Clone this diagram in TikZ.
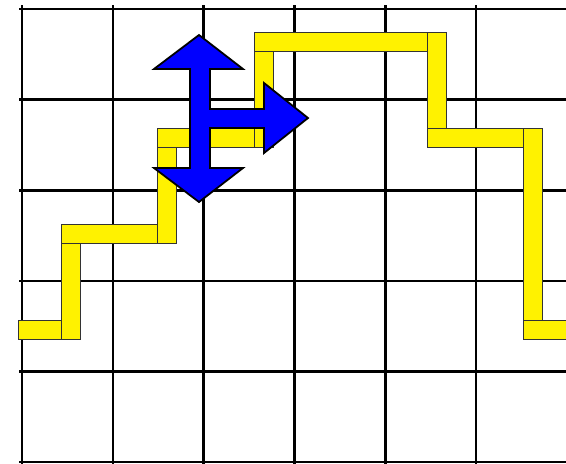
\documentclass[tikz,border=0pt]{standalone}
\begin{document}
\begin{tikzpicture}[x=1pt,y=-1pt,
  gridline/.style={line width=2.6pt, black},
  seg/.style={fill=yellow, draw=black!80, line width=0.9pt},
  arrowshape/.style={fill=blue, draw=black, line width=1.8pt, line join=miter}]
\useasboundingbox (0,0) rectangle (566,464);
\clip (0,0) rectangle (566,464);
\fill[white] (0,0) rectangle (566,464);
% grid
\foreach \x in {22,112.8,203.6,294.4,385.2,476}
  \draw[gridline] (\x,5) -- (\x,470);
\foreach \y in {9,99.6,190.2,280.8,371.4,462}
  \draw[gridline] (19,\y) -- (570,\y);
% yellow path segments
\draw[seg] (18,320) rectangle (80,339);
\draw[seg] (61,224) rectangle (80,339);
\draw[seg] (61,224) rectangle (176,243);
\draw[seg] (157,128) rectangle (176,243);
\draw[seg] (157,128) rectangle (273,147);
\draw[seg] (254,32) rectangle (273,147);
\draw[seg] (254,32) rectangle (446,51);
\draw[seg] (427,32) rectangle (446,147);
\draw[seg] (427,128) rectangle (542,147);
\draw[seg] (523,128) rectangle (542,339);
\draw[seg] (523,320) rectangle (572,339);
% blue three-way arrow
\draw[arrowshape] (199,35) -- (243,69) -- (210,69) -- (210,109) -- (264,109)
  -- (264,83) -- (308,118) -- (264,153) -- (264,128) -- (210,128) -- (210,168)
  -- (243,168) -- (199,202) -- (154,168) -- (190,168) -- (190,69) -- (154,69) -- cycle;
\end{tikzpicture}
\end{document}
